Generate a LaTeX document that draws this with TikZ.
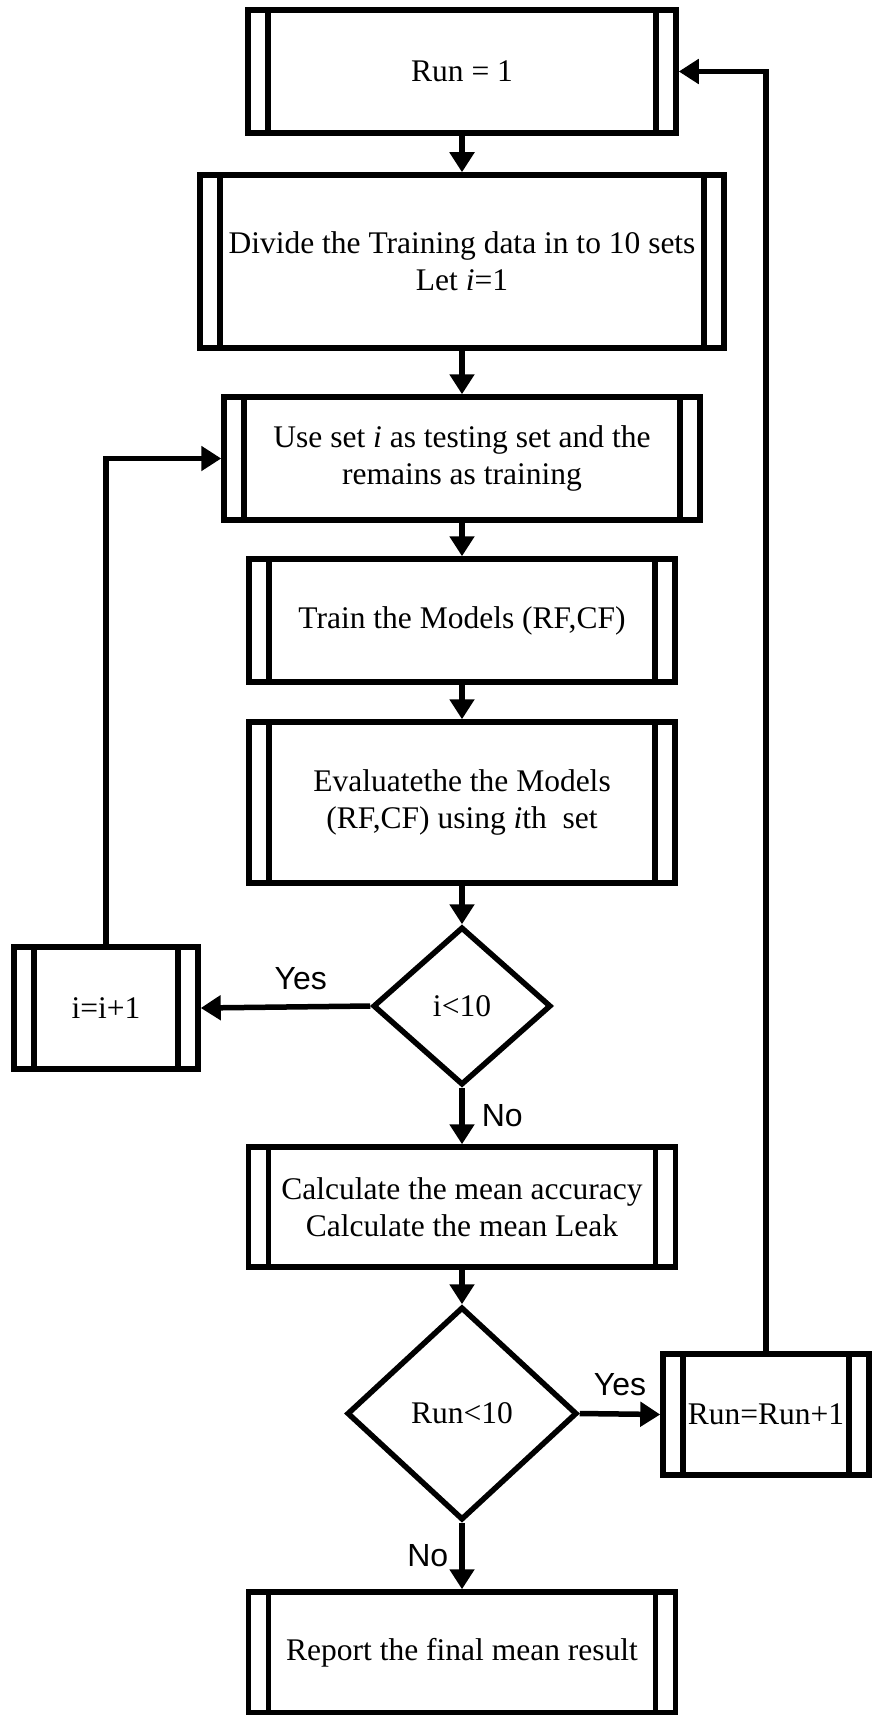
\documentclass[tikz,border=0pt]{standalone}
\usepackage{fontspec}
\setmainfont{Liberation Serif}
\newfontfamily\labelsans{Liberation Sans}
\usetikzlibrary{shapes.geometric,arrows.meta}
\tikzset{
  lw/.style={line width=5.5pt},
  proc/.style={draw, lw, inner sep=0pt, align=center,
    font=\fontsize{31.5}{37}\selectfont,
    path picture={
      \draw[lw] ([xshift=20pt]path picture bounding box.north west) -- ([xshift=20pt]path picture bounding box.south west);
      \draw[lw] ([xshift=-20pt]path picture bounding box.north east) -- ([xshift=-20pt]path picture bounding box.south east);
    }},
  dec/.style={draw, lw, diamond, inner sep=0pt, font=\fontsize{31.5}{37}\selectfont},
  arr/.style={lw, -{Triangle[length=20pt,width=24pt]}},
  lab/.style={font=\labelsans\fontsize{32}{38}\selectfont, inner sep=0pt}
}
\begin{document}
\begin{tikzpicture}[x=1pt,y=-1pt]
\useasboundingbox (0,0) rectangle (872,1715);
\node[proc, minimum width=428pt, minimum height=123pt] (run1) at (462,71.5) {Run = 1};
\node[proc, minimum width=524pt, minimum height=173pt] (divide) at (462,261.5) {Divide the Training data in to 10 sets\\ Let \textit{i}=1};
\node[proc, minimum width=476pt, minimum height=123pt] (useset) at (462,458.5) {Use set \textit{i} as testing set and the\\ remains as training};
\node[proc, minimum width=426pt, minimum height=123pt] (train) at (462,620.5) {Train the Models (RF,CF)};
\node[proc, minimum width=426pt, minimum height=161pt] (eval) at (462,802.5) {Evaluatethe the Models\\ (RF,CF) using \textit{i}th\ \ set};
\node[dec, minimum width=178pt, minimum height=158pt] (dia1) at (462,1006) {i<10};
\node[proc, minimum width=184pt, minimum height=122pt] (inc) at (106,1008) {i=i+1};
\node[proc, minimum width=427pt, minimum height=120pt] (calc) at (462,1207) {Calculate the mean accuracy\\ Calculate the mean Leak};
\node[dec, minimum width=230pt, minimum height=213pt] (dia2) at (462,1413.5) {Run<10};
\node[proc, minimum width=206pt, minimum height=121pt] (runinc) at (766,1414.5) {Run=Run+1};
\node[proc, minimum width=427pt, minimum height=121pt] (report) at (462,1652.5) {Report the final mean result};

\draw[arr] (run1) -- (divide);
\draw[arr] (divide) -- (useset);
\draw[arr] (useset) -- (train);
\draw[arr] (train) -- (eval);
\draw[arr] (eval) -- (dia1);
\draw[arr] (dia1.west) -- node[lab, pos=0.41, above=14pt]{Yes} (inc.east);
\draw[arr] (dia1.south) -- node[lab, midway, right=17pt]{No} (calc.north);
\draw[arr] (calc) -- (dia2);
\draw[arr] (dia2.east) -- node[lab, midway, above=15pt]{Yes} (runinc.west);
\draw[arr] (dia2.south) -- node[lab, midway, left=11pt]{No} (report.north);
\draw[arr] (inc.north) |- (useset.west);
\draw[arr] (runinc.north) |- (run1.east);
\end{tikzpicture}
\end{document}
